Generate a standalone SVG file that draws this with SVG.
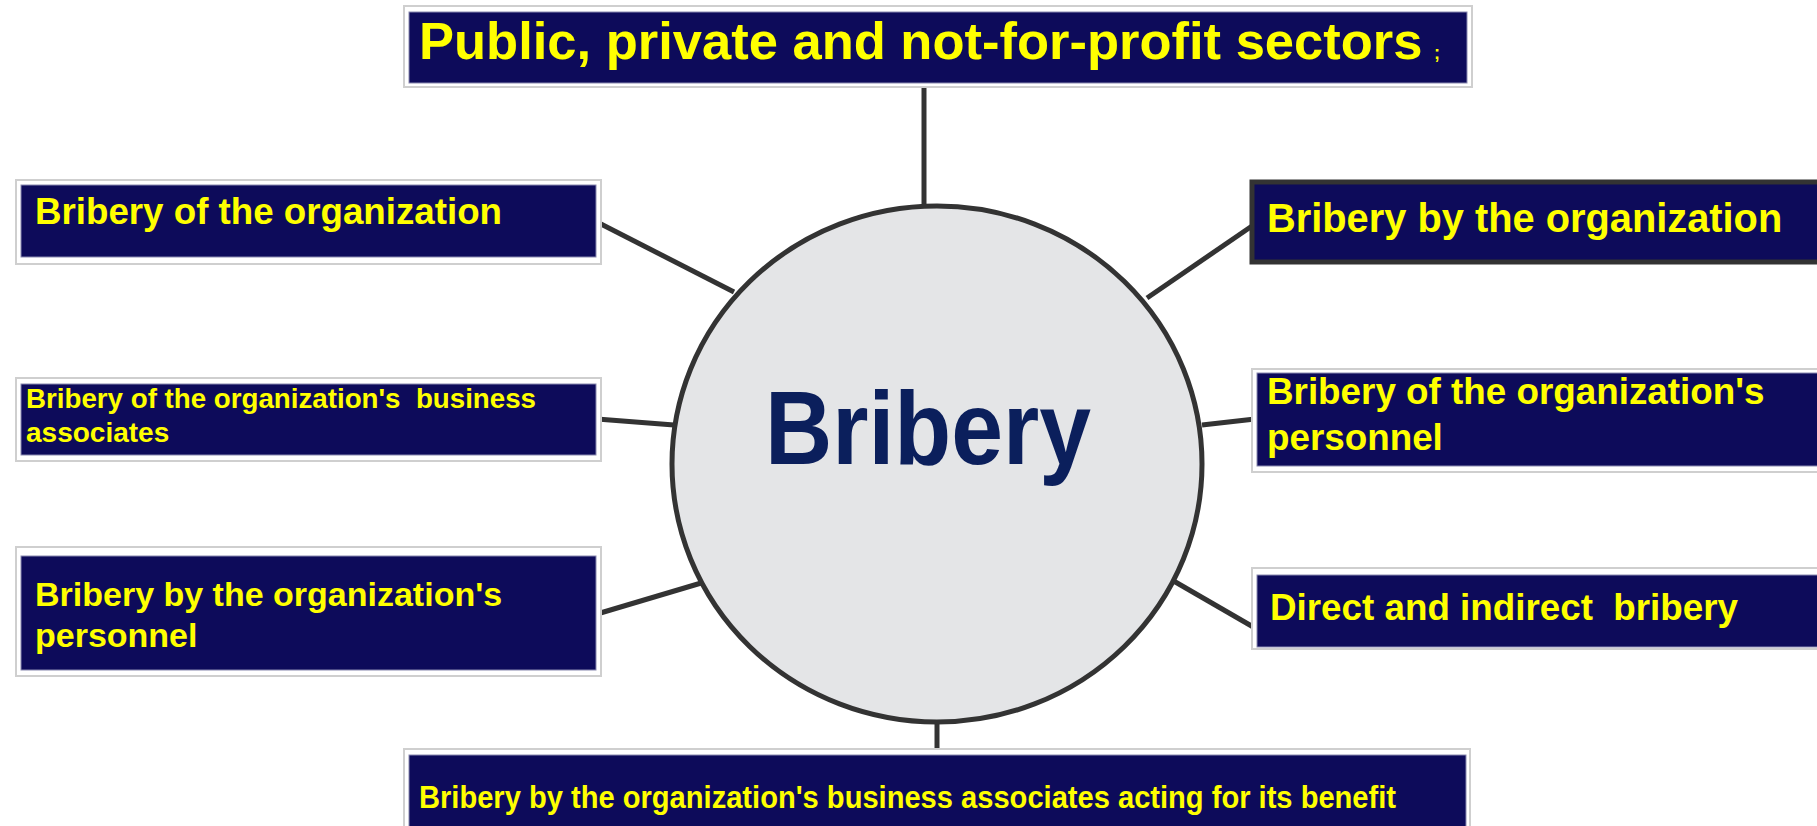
<svg xmlns="http://www.w3.org/2000/svg" width="1817" height="826" viewBox="0 0 1817 826">
<style>
.frame{fill:#ffffff;stroke:#cfcfcf;stroke-width:2}
.box{fill:#0D0B5A;stroke:#8a8ab0;stroke-width:1}
.lbl{font-family:"Liberation Sans",Arial,sans-serif;font-weight:bold;fill:#FFFF00;white-space:pre}
.conn line{stroke:#333333;stroke-width:5}
</style>
<rect width="1817" height="826" fill="#ffffff"/>
<g class="conn" id="connectors">
<line x1="924" y1="87" x2="924" y2="208"/>
<line x1="937" y1="720" x2="937" y2="752"/>
<line x1="597" y1="222" x2="734" y2="292"/>
<line x1="597" y1="419" x2="674" y2="425"/>
<line x1="597" y1="614" x2="718" y2="578"/>
<line x1="1147" y1="298" x2="1252" y2="226"/>
<line x1="1202" y1="425" x2="1255" y2="419"/>
<line x1="1165" y1="576" x2="1255" y2="628"/>
</g>
<g id="center">
<ellipse cx="937" cy="464" rx="265" ry="258" fill="#E4E5E7" stroke="#333333" stroke-width="5"/>
<text x="928" y="464" text-anchor="middle" font-family="Liberation Sans,Arial,sans-serif" font-weight="bold" font-size="104" fill="#0B1F5C" textLength="326" lengthAdjust="spacingAndGlyphs">Bribery</text>
</g>
<g id="top">
<rect class="frame" x="404" y="6" width="1068" height="81"/>
<rect class="box" x="409" y="12" width="1058" height="71"/>
<text class="lbl" x="419" y="59" font-size="52.5">Public, private and not-for-profit sectors</text>
<text class="lbl" x="1434" y="59" font-size="18">;</text>
</g>
<g id="left1">
<rect class="frame" x="16" y="180" width="585" height="84"/>
<rect class="box" x="21" y="185" width="575" height="72"/>
<text class="lbl" x="35" y="224" font-size="37" textLength="467" lengthAdjust="spacingAndGlyphs">Bribery of the organization</text>
</g>
<g id="left2">
<rect class="frame" x="16" y="378" width="585" height="83"/>
<rect class="box" x="21" y="384" width="575" height="71"/>
<text class="lbl" x="26" y="408" font-size="28" textLength="510" lengthAdjust="spacingAndGlyphs" xml:space="preserve">Bribery of the organization's  business</text>
<text class="lbl" x="26" y="442" font-size="28">associates</text>
</g>
<g id="left3">
<rect class="frame" x="16" y="547" width="585" height="129"/>
<rect class="box" x="21" y="556" width="575" height="114"/>
<text class="lbl" x="35" y="606" font-size="34">Bribery by the organization's</text>
<text class="lbl" x="35" y="647" font-size="34">personnel</text>
</g>
<g id="right1">
<rect x="1252" y="182" width="570" height="80" fill="#0D0B5A" stroke="#333333" stroke-width="5"/>
<text class="lbl" x="1267" y="232" font-size="39.8">Bribery by the organization</text>
</g>
<g id="right2">
<rect class="frame" x="1252" y="369" width="570" height="103"/>
<rect class="box" x="1257" y="373" width="565" height="93"/>
<text class="lbl" x="1267" y="404" font-size="36.8">Bribery of the organization's</text>
<text class="lbl" x="1267" y="450" font-size="36.8">personnel</text>
</g>
<g id="right3">
<rect class="frame" x="1252" y="568" width="570" height="81"/>
<rect class="box" x="1257" y="575" width="565" height="72"/>
<text class="lbl" x="1270" y="620" font-size="36.8" textLength="468" lengthAdjust="spacingAndGlyphs" xml:space="preserve">Direct and indirect  bribery</text>
</g>
<g id="bottom">
<rect class="frame" x="404" y="749" width="1066" height="80"/>
<rect class="box" x="409" y="755" width="1057" height="75"/>
<text class="lbl" x="419" y="808" font-size="32" textLength="977" lengthAdjust="spacingAndGlyphs">Bribery by the organization's business associates acting for its benefit</text>
</g>
</svg>
